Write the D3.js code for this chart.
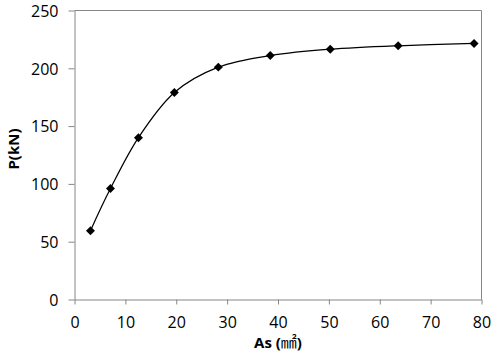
<!DOCTYPE html>
<html>
<head>
<meta charset="utf-8">
<script src="https://cdn.jsdelivr.net/npm/d3@7"></script>
<style>
  html, body { margin: 0; padding: 0; background: #fff; }
  svg { display: block; }
  text { font-family: "Open Sans", "Noto Sans", sans-serif; fill: #000; }
</style>
</head>
<body>
<svg id="chart" width="500" height="359"></svg>
<script>
// Data
const areas = [3.14, 7.07, 12.57, 19.63, 28.27, 38.48, 50.27, 63.62, 78.54];
const loads = [59.5, 96, 140, 179, 201, 211, 216.5, 219.5, 221.5];
const xTicks = [0, 10, 20, 30, 40, 50, 60, 70, 80];
const yTicks = [0, 50, 100, 150, 200, 250];
const xTitleParts = ["As (", "㎟", ")"];
const yTitle = "P(kN)";

const svg = d3.select("#chart");
const L = 74.5, R = 481.5, T = 10.5, B = 299.5;
const axisColor = "#868686";

const x = d3.scaleLinear().domain([0, 80]).range([L, R]);
const y = d3.scaleLinear().domain([0, 250]).range([B, T]);

// plot border (top and right)
svg.append("path")
  .attr("d", `M${L},${T}H${R}V${B}`)
  .attr("fill", "none").attr("stroke", axisColor).attr("stroke-width", 1);

// x axis
const xAxis = svg.append("g").attr("transform", `translate(0,${B})`)
  .call(d3.axisBottom(x).tickValues(xTicks).tickSize(5).tickSizeOuter(0).tickPadding(10));
// y axis
const yAxis = svg.append("g").attr("transform", `translate(${L},0)`)
  .call(d3.axisLeft(y).tickValues(yTicks).tickSize(6).tickSizeOuter(0).tickPadding(10));

[xAxis, yAxis].forEach(g => {
  g.select(".domain").attr("stroke", axisColor);
  g.selectAll(".tick line").attr("stroke", axisColor);
  g.selectAll(".tick text")
    .attr("font-family", "'Open Sans', sans-serif")
    .attr("font-size", 16).attr("fill", "#000");
});
xAxis.selectAll(".tick text").attr("dy", null).attr("y", 28.5);
yAxis.selectAll(".tick text").attr("dy", "0.36em");

// curve
const pts = areas.map((a, i) => [a, loads[i]]);
const line = d3.line().x(d => x(d[0])).y(d => y(d[1])).curve(d3.curveCardinal.tension(0));
svg.append("path").datum(pts)
  .attr("d", line)
  .attr("fill", "none").attr("stroke", "#000").attr("stroke-width", 1.25);

// markers (diamonds)
const sym = d3.symbol().type(d3.symbolSquare).size(40);
svg.append("g").selectAll("path").data(pts).join("path")
  .attr("d", sym)
  .attr("transform", d => `translate(${x(d[0])},${y(d[1])}) rotate(45)`)
  .attr("fill", "#000");

// titles
const xt = svg.append("text")
  .attr("x", 278).attr("y", 348)
  .attr("text-anchor", "middle")
  .attr("font-weight", "bold").attr("font-size", 15);
xt.append("tspan").text(xTitleParts[0]);
xt.append("tspan")
  .attr("font-family", "'Noto Sans CJK KR', 'Noto Sans CJK SC', sans-serif")
  .attr("font-weight", "normal")
  .attr("font-size", 16).text(xTitleParts[1]);
xt.append("tspan").text(xTitleParts[2]);

svg.append("text")
  .attr("transform", "translate(19,149) rotate(-90)")
  .attr("text-anchor", "middle")
  .attr("font-weight", "bold").attr("font-size", 15)
  .text(yTitle);
</script>
</body>
</html>
